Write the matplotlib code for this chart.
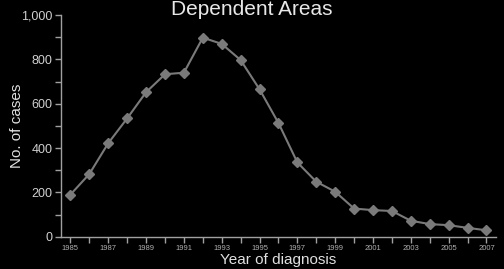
import matplotlib.pyplot as plt
import numpy as np

plt.rcParams['font.family'] = ['Liberation Sans', 'DejaVu Sans']

years = list(range(1985, 2008))
cases = [190, 283, 422, 534, 652, 733, 740, 898, 870, 797, 665, 513,
         335, 248, 203, 127, 120, 116, 72, 57, 52, 40, 29]

fig = plt.figure(figsize=(5.04, 2.69), dpi=100, facecolor='black')
ax = fig.add_axes([0.121, 0.12, 0.863, 0.824], facecolor='black')

ax.plot(years, cases, color='#7a7a7a', lw=1.5, marker='D', ms=5,
        mfc='#7a7a7a', mec='#7a7a7a')

ax.set_xlim(1984.5, 2007.5)
ax.set_ylim(0, 1000)
ax.set_xticks(years)
ax.set_xticklabels([str(y) if y % 2 == 1 else '' for y in years])
ax.set_yticks(range(0, 1001, 100))
ax.set_yticklabels(['{:,}'.format(v) if v % 200 == 0 else '' for v in range(0, 1001, 100)])

for s in ['top', 'right']:
    ax.spines[s].set_visible(False)
for s in ['left', 'bottom']:
    ax.spines[s].set_color('#a0a0a0')
    ax.spines[s].set_linewidth(1.0)

ax.tick_params(axis='x', colors='#a0a0a0', labelcolor='#b0b0b0',
               labelsize=5.5, length=4, width=1, pad=2)
ax.tick_params(axis='y', colors='#a0a0a0', labelcolor='#d0d0d0',
               labelsize=9, length=4, width=1, pad=2)

ax.set_xlabel('Year of diagnosis', color='#e0e0e0', fontsize=11, labelpad=1)
ax.set_ylabel('No. of cases', color='#e0e0e0', fontsize=11)
ax.yaxis.set_label_coords(-0.085, 0.5)

fig.text(0.499, 1.0, 'Dependent Areas', color='#e8e8e8', fontsize=15,
         ha='center', va='top')

fig.savefig('out.png', dpi=100, facecolor='black')
